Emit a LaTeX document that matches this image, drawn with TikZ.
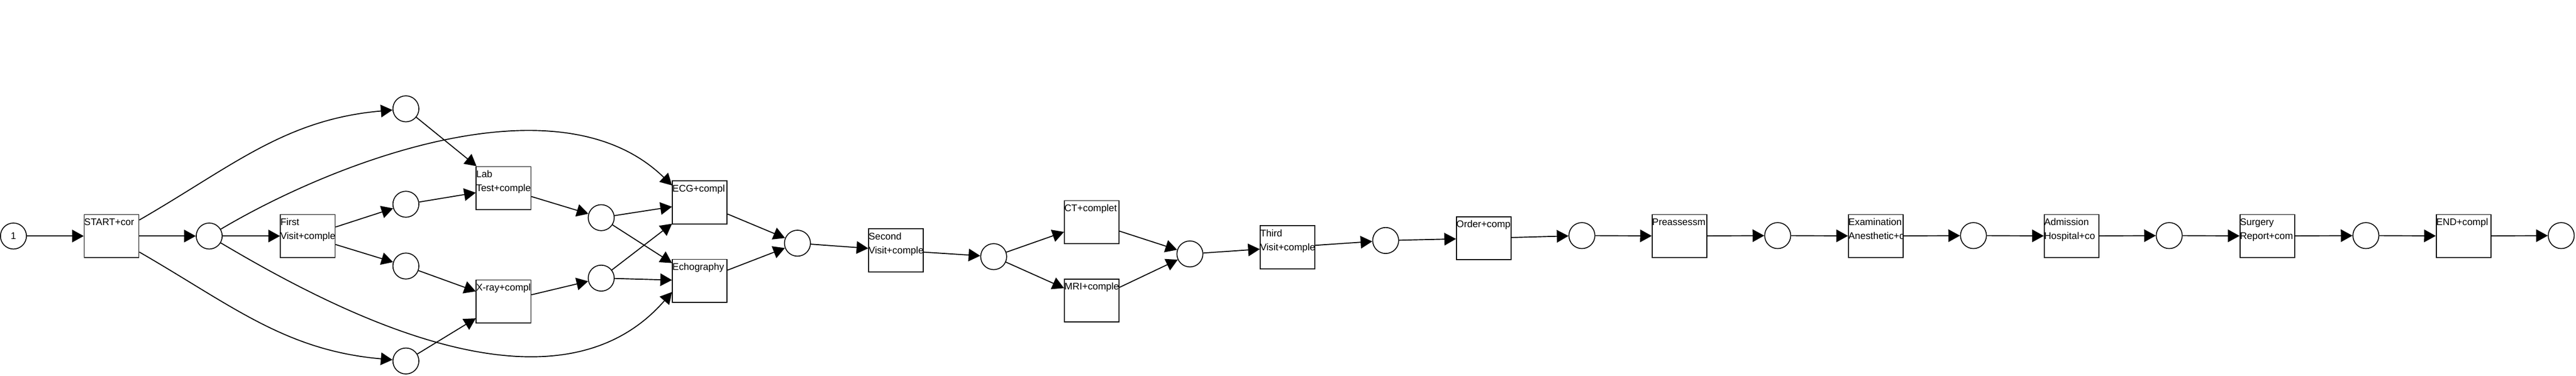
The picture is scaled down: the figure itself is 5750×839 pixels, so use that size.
\documentclass[tikz,border=0pt]{standalone}
\usepackage{fontspec}
\setmainfont{Liberation Sans}
\usetikzlibrary{arrows.meta}

\begin{document}
\begin{tikzpicture}[
    x=0.5pt, y=0.5pt,
    place/.style={circle, draw=black, line width=1pt,
        minimum size=29pt, inner sep=0pt, font=\fontsize{10.8}{13}\selectfont},
    trans/.style={rectangle, draw=black, line width=1pt, inner sep=0pt,
        text width=61pt, text height=12pt, text depth=36pt, align=left,
        font=\fontsize{10.8}{15.5}\selectfont,
        execute at begin node={\hyphenpenalty=10000\relax\exhyphenpenalty=10000\relax}},
    flow/.style={line width=1.1pt, -{Triangle[length=13pt, width=14pt]}}
]
    \useasboundingbox (0,0) rectangle (5750,839);
    \node[place] (p0) at (30,312) {1};
    \node[trans] (start) at (249,312) {START+cor};
    \node[place] (p1) at (467,312) {};
    \node[trans] (first) at (687,312) {First\\Visit+comple};
    \node[place] (p2) at (906,596) {};
    \node[place] (p3) at (906,383) {};
    \node[place] (p4) at (906,245) {};
    \node[place] (p5) at (906,33) {};
    \node[trans] (lab) at (1124,419) {Lab\\Test+comple};
    \node[trans] (xray) at (1124,166) {X-ray+compl};
    \node[place] (p6) at (1342,353) {};
    \node[place] (p7) at (1342,218) {};
    \node[trans] (ecg) at (1562,387) {ECG+compl};
    \node[trans] (echo) at (1562,212) {Echography};
    \node[place] (p8) at (1780,296) {};
    \node[trans] (second) at (2000,280) {Second\\Visit+comple};
    \node[place] (p9) at (2218,266) {};
    \node[trans] (ct) at (2437,343) {CT+complet};
    \node[trans] (mri) at (2437,168) {MRI+comple};
    \node[place] (p10) at (2656,272) {};
    \node[trans] (third) at (2874,287) {Third\\Visit+comple};
    \node[place] (p11) at (3093,302) {};
    \node[trans] (order) at (3312,307) {Order+comp};
    \node[place] (p12) at (3531,313) {};
    \node[trans] (preass) at (3749,312) {Preassessm};
    \node[place] (p13) at (3968,313) {};
    \node[trans] (exam) at (4187,312) {Examination\\Anesthetic+c};
    \node[place] (p14) at (4405,313) {};
    \node[trans] (admit) at (4624,312) {Admission\\Hospital+co};
    \node[place] (p15) at (4842,313) {};
    \node[trans] (surgery) at (5061,312) {Surgery\\Report+com};
    \node[place] (p16) at (5281,313) {};
    \node[trans] (finish) at (5499,312) {END+compl};
    \node[place] (p17) at (5717,313) {};
    \draw[flow] (p0) -- (start);
    \draw[flow] (start) -- (p1);
    \draw[flow] (start) to[out=30, in=185] (p2);
    \draw[flow] (start) to[out=-30, in=175] (p5);
    \draw[flow] (p1) -- (first);
    \draw[flow] (p1) .. controls +(283,168) and +(-251,245) .. ([yshift=19pt]ecg.west);
    \draw[flow] (p1) .. controls +(283,-168) and +(-261,-300) .. ([yshift=-12.5pt]echo.west);
    \draw[flow] (first) -- (p3);
    \draw[flow] (first) -- (p4);
    \draw[flow] (p2) -- (lab);
    \draw[flow] (p3) -- (lab);
    \draw[flow] (p4) -- (xray);
    \draw[flow] (p5) -- (xray);
    \draw[flow] (lab) -- (p6);
    \draw[flow] (xray) -- (p7);
    \draw[flow] (p6) -- (ecg);
    \draw[flow] (p6) -- (echo);
    \draw[flow] (p7) -- (ecg);
    \draw[flow] (p7) -- (echo);
    \draw[flow] (ecg) -- (p8);
    \draw[flow] (echo) -- (p8);
    \draw[flow] (p8) -- (second);
    \draw[flow] (second) -- (p9);
    \draw[flow] (p9) -- (ct);
    \draw[flow] (p9) -- (mri);
    \draw[flow] (ct) -- (p10);
    \draw[flow] (mri) -- (p10);
    \draw[flow] (p10) -- (third);
    \draw[flow] (third) -- (p11);
    \draw[flow] (p11) -- (order);
    \draw[flow] (order) -- (p12);
    \draw[flow] (p12) -- (preass);
    \draw[flow] (preass) -- (p13);
    \draw[flow] (p13) -- (exam);
    \draw[flow] (exam) -- (p14);
    \draw[flow] (p14) -- (admit);
    \draw[flow] (admit) -- (p15);
    \draw[flow] (p15) -- (surgery);
    \draw[flow] (surgery) -- (p16);
    \draw[flow] (p16) -- (finish);
    \draw[flow] (finish) -- (p17);
\end{tikzpicture}
\end{document}
